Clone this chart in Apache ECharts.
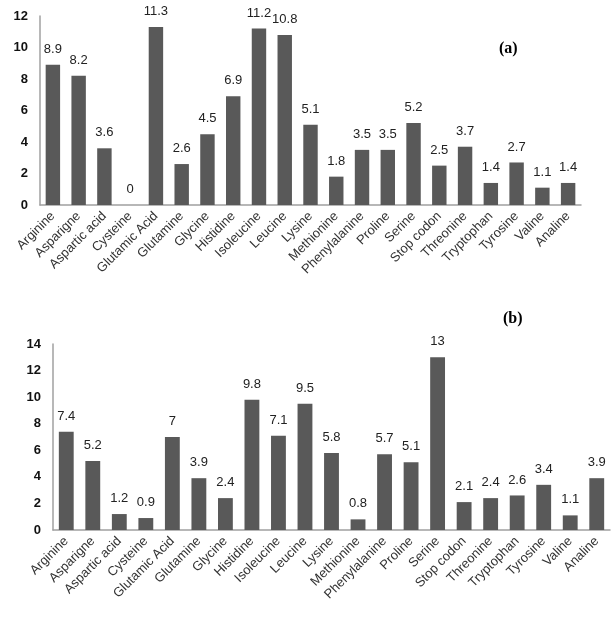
<!DOCTYPE html>
<html><head><meta charset="utf-8">
<script src="https://cdn.jsdelivr.net/npm/echarts@6/dist/echarts.min.js"></script>
<style>html,body{margin:0;padding:0;background:#fff}#c{width:612px;height:620px}</style>
</head><body><div id="c"></div>
<script>
var categories = ["Arginine","Asparigne","Aspartic acid","Cysteine","Glutamic Acid","Glutamine","Glycine","Histidine","Isoleucine","Leucine","Lysine","Methionine","Phenylalanine","Proline","Serine","Stop codon","Threonine","Tryptophan","Tyrosine","Valine","Analine"];
var valuesA = [8.9,8.2,3.6,0,11.3,2.6,4.5,6.9,11.2,10.8,5.1,1.8,3.5,3.5,5.2,2.5,3.7,1.4,2.7,1.1,1.4];
var valuesB = [7.4,5.2,1.2,0.9,7,3.9,2.4,9.8,7.1,9.5,5.8,0.8,5.7,5.1,13,2.1,2.4,2.6,3.4,1.1,3.9];
var ticksA = {min:0,max:12,interval:2};
var ticksB = {min:0,max:14,interval:2};

var chart = echarts.init(document.getElementById('c'), null, {renderer:'canvas'});
var labFont = 'Liberation Sans';
function xAx(i){return {type:'category',gridIndex:i,data:categories,
  axisLine:{lineStyle:{color:'#a0a0a0',width:1.5}},axisTick:{show:false},
  axisLabel:{rotate:45,interval:0,color:'#333',fontFamily:labFont,fontSize:13,margin:9}};}
function yAx(i,t){return {type:'value',gridIndex:i,min:t.min,max:t.max,interval:t.interval,
  axisLine:{show:true,lineStyle:{color:'#a0a0a0',width:1.5}},axisTick:{show:false},splitLine:{show:false},
  axisLabel:{color:'#111',fontFamily:labFont,fontSize:13,fontWeight:'bold',margin:12}};}
function ser(i,d){return {type:'bar',xAxisIndex:i,yAxisIndex:i,data:d,barCategoryGap:'44%',
  itemStyle:{color:'#595959'},
  label:{show:true,position:'top',distance:9,color:'#222',fontFamily:labFont,fontSize:13}};}
chart.setOption({
  animation:false,
  title:[
    {text:'(a)',left:494,top:36,textStyle:{fontFamily:'Liberation Serif',fontWeight:'bold',fontSize:16,color:'#000'}},
    {text:'(b)',left:498,top:306,textStyle:{fontFamily:'Liberation Serif',fontWeight:'bold',fontSize:16,color:'#000'}}
  ],
  grid:[
    {left:40,right:31,top:16,bottom:415},
    {left:53,right:2,top:344,bottom:90}
  ],
  xAxis:[xAx(0),xAx(1)],
  yAxis:[yAx(0,ticksA),yAx(1,ticksB)],
  series:[ser(0,valuesA),ser(1,valuesB)]
});
</script></body></html>
